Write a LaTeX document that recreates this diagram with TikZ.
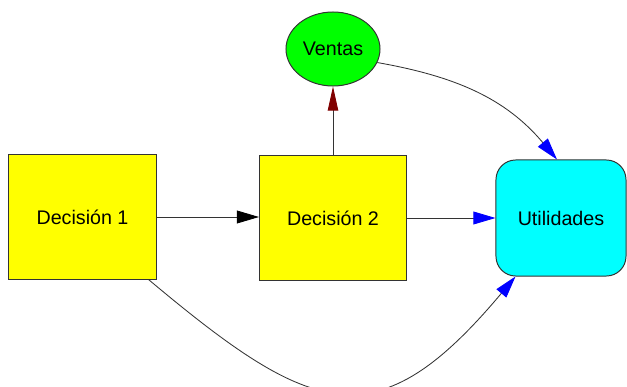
\documentclass[tikz,border=0pt]{standalone}
\usepackage{fontspec}
\setmainfont{Liberation Sans}
\usetikzlibrary{arrows.meta, shapes.geometric}
\definecolor{decfill}{HTML}{FFFF00}
\definecolor{salesfill}{HTML}{00FF00}
\definecolor{utilfill}{HTML}{00FFFF}
\definecolor{darkline}{HTML}{333333}
\definecolor{tipred}{HTML}{800000}
\definecolor{tipblue}{HTML}{0000FF}
\tikzset{
  box/.style={rectangle, align=center, draw=darkline, line width=0.7pt, font=\fontsize{14}{16}\selectfont},
  decision/.style={box, fill=decfill, minimum width=3.675cm, minimum height=3.1cm},
  chance/.style={box, ellipse, fill=salesfill, minimum width=2.35cm, minimum height=1.85cm, inner sep=0pt},
  value/.style={box, rounded corners=14pt, fill=utilfill, minimum width=3.25cm, minimum height=2.9cm},
  flow/.style={line width=0.6pt, draw=darkline},
  tipblack/.style={-{Triangle[length=5.5mm, width=3.2mm, black]}},
  tipdark/.style={-{Triangle[length=6mm, width=2.6mm, tipred]}},
  tipazul/.style={-{Triangle[length=5.5mm, width=3.2mm, tipblue]}}
}

\begin{document}
\begin{tikzpicture}[x=0.025cm, y=-0.025cm]
\clip (0,0) rectangle (627,387);

\node[decision] (dec1) at (82.5, 217) {Decisión 1};
\node[decision] (dec2) at (333, 218) {Decisión 2};
\node[chance] (sales) at (333, 49) {Ventas};
\node[value] (util) at (561, 218) {Utilidades};

\draw[flow, tipblack] (dec1.east) -- (dec1.east -| dec2.west);
\draw[flow, tipazul] (dec2.east) -- (util.west);
\draw[flow, tipdark] (dec2.north) -- (sales.south);
\draw[flow, tipazul] (sales.-17) to[out=-10, in=130] ([xshift=-0.1cm]util.north);
\draw[flow, tipazul] ([xshift=-0.2cm]dec1.south east) to[out=-40, in=230, looseness=1.5] ([xshift=0.5cm]util.south west);

\end{tikzpicture}
\end{document}
